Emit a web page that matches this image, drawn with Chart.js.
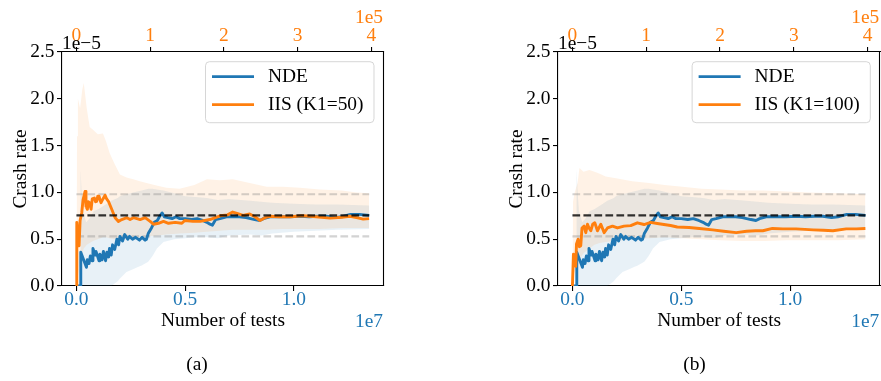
<!DOCTYPE html>
<html>
<head>
<meta charset="utf-8">
<script src="https://cdn.jsdelivr.net/npm/chart.js@4.4.1/dist/chart.umd.min.js"></script>
<style>
  html, body { margin: 0; padding: 0; background: #fff; }
  body { width: 881px; height: 381px; position: relative; overflow: hidden; }
  canvas { position: absolute; top: 0; }
  #chartA { left: 0; }
  #chartB { left: 496px; }
</style>
</head>
<body>
<canvas id="chartA" width="440" height="381"></canvas>
<canvas id="chartB" width="385" height="381"></canvas>
<script>
// ---- NDE running crash-rate estimate (x: number of tests, 1e7; y: crash rate, 1e-5)
const ndeX = [0, 0.019, 0.020, 0.030, 0.046, 0.050, 0.058, 0.064, 0.072, 0.076, 0.086, 0.090, 0.104, 0.108, 0.118, 0.124, 0.134, 0.140, 0.148, 0.152, 0.160, 0.166, 0.176, 0.186, 0.194, 0.200, 0.212, 0.222, 0.236, 0.244, 0.258, 0.272, 0.290, 0.302, 0.316, 0.322, 0.330, 0.345, 0.358, 0.372, 0.384, 0.394, 0.404, 0.420, 0.440, 0.458, 0.475, 0.500, 0.530, 0.555, 0.580, 0.600, 0.614, 0.625, 0.640, 0.660, 0.690, 0.720, 0.750, 0.780, 0.800, 0.820, 0.843, 0.860, 0.890, 0.930, 0.980, 1.030, 1.070, 1.110, 1.150, 1.190, 1.220, 1.260, 1.300, 1.346];
const ndeY = [0, 0, 0.36, 0.30, 0.20, 0.28, 0.24, 0.32, 0.27, 0.40, 0.33, 0.37, 0.27, 0.34, 0.28, 0.37, 0.27, 0.36, 0.31, 0.40, 0.33, 0.44, 0.39, 0.50, 0.44, 0.53, 0.48, 0.55, 0.50, 0.53, 0.50, 0.52, 0.49, 0.52, 0.49, 0.50, 0.56, 0.62, 0.68, 0.70, 0.75, 0.78, 0.74, 0.73, 0.72, 0.74, 0.72, 0.72, 0.71, 0.72, 0.70, 0.68, 0.66, 0.65, 0.71, 0.72, 0.74, 0.74, 0.74, 0.73, 0.72, 0.71, 0.70, 0.72, 0.74, 0.74, 0.74, 0.745, 0.74, 0.745, 0.745, 0.73, 0.74, 0.765, 0.765, 0.755];
const ndeBandX = [0, 0.018, 0.019, 0.024, 0.030, 0.045, 0.060, 0.080, 0.100, 0.120, 0.140, 0.160, 0.190, 0.200, 0.230, 0.260, 0.280, 0.300, 0.330, 0.350, 0.370, 0.400, 0.450, 0.500, 0.550, 0.600, 0.650, 0.700, 0.800, 0.850, 0.900, 1.000, 1.100, 1.200, 1.346];
const ndeHigh = [0, 0, 1.25, 1.00, 0.80, 0.68, 0.72, 0.80, 0.82, 0.85, 0.88, 0.91, 0.94, 0.96, 0.98, 1.00, 1.01, 1.02, 1.04, 1.04, 1.03, 1.02, 0.99, 0.96, 0.95, 0.94, 0.92, 0.93, 0.91, 0.90, 0.89, 0.88, 0.87, 0.87, 0.86];
const ndeLow = [0, 0, 0, 0, 0, 0, 0, 0, 0, 0, 0, 0, 0.05, 0.08, 0.15, 0.18, 0.20, 0.22, 0.26, 0.32, 0.40, 0.47, 0.50, 0.51, 0.52, 0.52, 0.51, 0.54, 0.55, 0.54, 0.56, 0.58, 0.59, 0.60, 0.61];

// ---- IIS with K1=50 (x: number of tests, 1e5)
const iisAX = [0, 0.004, 0.006, 0.020, 0.036, 0.050, 0.072, 0.090, 0.117, 0.130, 0.149, 0.160, 0.176, 0.199, 0.215, 0.244, 0.260, 0.275, 0.290, 0.307, 0.320, 0.334, 0.360, 0.389, 0.410, 0.434, 0.479, 0.525, 0.570, 0.615, 0.650, 0.683, 0.728, 0.774, 0.820, 0.864, 0.932, 1.000, 1.045, 1.113, 1.181, 1.249, 1.339, 1.430, 1.470, 1.580, 1.680, 1.810, 1.950, 2.050, 2.120, 2.200, 2.260, 2.350, 2.420, 2.490, 2.560, 2.620, 2.750, 2.900, 3.070, 3.250, 3.440, 3.600, 3.710, 3.800, 3.890, 3.970];
const iisAY = [0, 0, 0.68, 0.55, 0.43, 0.70, 0.78, 0.92, 1.01, 0.85, 0.82, 0.90, 0.89, 0.82, 0.93, 0.94, 0.90, 0.905, 0.96, 0.96, 0.92, 0.89, 0.93, 0.97, 0.93, 0.905, 0.82, 0.73, 0.69, 0.71, 0.72, 0.73, 0.71, 0.73, 0.72, 0.71, 0.73, 0.69, 0.66, 0.67, 0.69, 0.67, 0.68, 0.67, 0.70, 0.69, 0.69, 0.71, 0.75, 0.76, 0.79, 0.77, 0.755, 0.77, 0.74, 0.70, 0.73, 0.745, 0.74, 0.74, 0.75, 0.74, 0.725, 0.735, 0.745, 0.73, 0.715, 0.72];
const iisABandX = [0, 0.004, 0.008, 0.02, 0.05, 0.08, 0.10, 0.14, 0.18, 0.225, 0.29, 0.36, 0.40, 0.45, 0.52, 0.59, 0.68, 0.77, 0.86, 0.95, 1.10, 1.22, 1.40, 1.60, 1.77, 1.95, 2.12, 2.35, 2.58, 2.80, 3.03, 3.30, 3.60, 3.80, 3.97];
const iisAHigh = [0, 0, 1.60, 2.00, 1.90, 2.10, 2.17, 1.90, 1.70, 1.67, 1.62, 1.63, 1.55, 1.42, 1.30, 1.19, 1.16, 1.14, 1.12, 1.10, 1.07, 1.05, 1.04, 1.08, 1.14, 1.13, 1.14, 1.10, 1.06, 1.06, 1.05, 1.03, 1.02, 1.00, 0.99];
const iisALow = [0, 0, 0.20, 0.10, 0.25, 0.35, 0.40, 0.44, 0.46, 0.48, 0.50, 0.52, 0.52, 0.51, 0.50, 0.50, 0.50, 0.51, 0.52, 0.53, 0.54, 0.55, 0.56, 0.57, 0.58, 0.59, 0.60, 0.60, 0.60, 0.61, 0.61, 0.61, 0.62, 0.62, 0.62];

// ---- IIS with K1=100 (x: number of tests, 1e5)
const iisBX = [0, 0.005, 0.0136, 0.030, 0.045, 0.055, 0.077, 0.095, 0.113, 0.130, 0.158, 0.181, 0.204, 0.225, 0.249, 0.275, 0.303, 0.339, 0.385, 0.430, 0.475, 0.543, 0.610, 0.700, 0.790, 0.880, 0.970, 1.060, 1.150, 1.240, 1.330, 1.420, 1.580, 1.720, 1.900, 2.050, 2.220, 2.360, 2.480, 2.580, 2.710, 2.850, 3.030, 3.150, 3.260, 3.400, 3.530, 3.710, 3.850, 3.970];
const iisBY = [0, 0, 0.34, 0.28, 0.21, 0.45, 0.50, 0.42, 0.43, 0.62, 0.64, 0.57, 0.66, 0.62, 0.59, 0.66, 0.675, 0.59, 0.66, 0.57, 0.62, 0.64, 0.62, 0.64, 0.645, 0.675, 0.657, 0.68, 0.668, 0.657, 0.646, 0.63, 0.625, 0.615, 0.60, 0.585, 0.57, 0.585, 0.59, 0.59, 0.615, 0.61, 0.61, 0.605, 0.60, 0.595, 0.59, 0.61, 0.61, 0.615];
const iisBBandX = [0, 0.005, 0.008, 0.03, 0.07, 0.095, 0.15, 0.23, 0.30, 0.37, 0.45, 0.59, 0.81, 1.04, 1.25, 1.49, 1.75, 2.0, 2.3, 2.6, 2.9, 3.2, 3.6, 3.97];
const iisBHigh = [0, 0, 0.90, 1.00, 1.10, 1.26, 1.22, 1.24, 1.22, 1.20, 1.17, 1.15, 1.12, 1.10, 1.08, 1.06, 1.04, 1.03, 1.02, 1.02, 1.01, 1.00, 0.99, 0.98];
const iisBLow = [0, 0, 0.10, 0.15, 0.22, 0.28, 0.35, 0.40, 0.44, 0.46, 0.47, 0.48, 0.50, 0.51, 0.52, 0.51, 0.50, 0.49, 0.48, 0.48, 0.49, 0.49, 0.49, 0.50];

// ---- reference crash rate and its bounds, over the NDE test range
const refRate = 0.755;
const refHigh = 0.98;
const refLow = 0.53;
const refSpan = [0, 1.346];

// ---- tick labels
const yTicks = [0, 0.5, 1.0, 1.5, 2.0, 2.5];
const bottomTicks = [0, 0.5, 1.0];
const topTicks = [0, 1, 2, 3, 4];

const BLUE = '#1f77b4';
const ORANGE = '#ff7f0e';
const SERIF = '"Liberation Serif", "Times New Roman", serif';
const FS = 19.4;
const FONT_CSS = FS + 'px ' + SERIF;

const pts = (xs, ys) => xs.map((x, i) => ({ x: x, y: ys[i] }));
const flat = (v, span) => span.map(x => ({ x: x, y: v }));

// legend box, right spine, axis offset labels and panel caption
const decorPlugin = {
  id: 'decor',
  afterDatasetsDraw(chart) {
    const { ctx, chartArea: a } = chart;
    const items = [chart.data.datasets[1], chart.data.datasets[0]];
    ctx.save();
    ctx.font = FONT_CSS;
    const tw = Math.max(...items.map(d => ctx.measureText(d.label).width));
    const w = 62.5 + tw + 10.5, h = 61;
    const x0 = a.right - 10 - w, y0 = a.top + 9.7;
    ctx.beginPath();
    ctx.roundRect(x0, y0, w, h, 4);
    ctx.fillStyle = 'rgba(255,255,255,0.8)';
    ctx.fill();
    ctx.lineWidth = 1;
    ctx.strokeStyle = 'rgba(204,204,204,0.8)';
    ctx.stroke();
    items.forEach((d, i) => {
      const ly = y0 + 15 + i * 28;
      ctx.beginPath();
      ctx.moveTo(x0 + 6.5, ly);
      ctx.lineTo(x0 + 48.5, ly);
      ctx.strokeStyle = d.borderColor;
      ctx.lineWidth = 2.8;
      ctx.stroke();
      ctx.fillStyle = '#000';
      ctx.textBaseline = 'middle';
      ctx.textAlign = 'left';
      ctx.fillText(d.label, x0 + 62.5, ly);
    });
    ctx.restore();
  },
  afterDraw(chart, args, opts) {
    const { ctx, chartArea: a } = chart;
    ctx.save();
    ctx.strokeStyle = '#000';
    ctx.lineWidth = 1.1;
    ctx.beginPath();
    ctx.moveTo(Math.round(a.right) - 0.5, a.top);
    ctx.lineTo(Math.round(a.right) - 0.5, a.bottom);
    ctx.stroke();
    ctx.font = FONT_CSS;
    ctx.textBaseline = 'alphabetic';
    ctx.fillStyle = '#000';
    ctx.textAlign = 'left';
    ctx.fillText('1e\u22125', a.left, 49);
    ctx.textAlign = 'right';
    ctx.fillStyle = ORANGE;
    ctx.fillText('1e5', a.right - 1, 22.7);
    ctx.fillStyle = BLUE;
    ctx.fillText('1e7', a.right - 1, 327);
    ctx.fillStyle = '#000';
    ctx.textAlign = 'center';
    ctx.fillText(opts.caption, opts.captionX, 369.5);
    ctx.restore();
  }
};

function makePanel(id, iisX, iisY, bandX, bandLow, bandHigh, iisLabel, caption, captionX, padRight) {
  const line = (extra) => Object.assign({
    pointRadius: 0, pointHoverRadius: 0, tension: 0, fill: false,
    borderJoinStyle: 'round', borderCapStyle: 'butt'
  }, extra);
  const tickFont = { family: SERIF, size: FS, lineHeight: 0.8 };
  const axisGrid = { display: true, drawOnChartArea: false, drawTicks: true, tickLength: 5, color: '#000', lineWidth: 1.1 };
  const axisBorder = { display: true, color: '#000', width: 1.1 };

  return new Chart(document.getElementById(id), {
    type: 'line',
    data: {
      datasets: [
        line({ label: iisLabel, data: pts(iisX, iisY), xAxisID: 'x2', borderColor: ORANGE, borderWidth: 2.9, order: 1 }),
        line({ label: 'NDE', data: pts(ndeX, ndeY), xAxisID: 'x', borderColor: BLUE, borderWidth: 2.9, order: 2 }),
        line({ label: 'rate', data: flat(refRate, refSpan), xAxisID: 'x', borderColor: 'rgba(0,0,0,0.8)', borderWidth: 2.1, borderDash: [7.7, 3.3], order: 0 }),
        line({ label: 'high', data: flat(refHigh, refSpan), xAxisID: 'x', borderColor: 'rgba(128,128,128,0.35)', borderWidth: 2.1, borderDash: [7.7, 3.3], order: 3 }),
        line({ label: 'low', data: flat(refLow, refSpan), xAxisID: 'x', borderColor: 'rgba(128,128,128,0.35)', borderWidth: 2.1, borderDash: [7.7, 3.3], order: 4 }),
        line({ label: 'iisHigh', data: pts(bandX, bandHigh), xAxisID: 'x2', borderColor: 'transparent', borderWidth: 0, fill: 6, backgroundColor: 'rgba(255,127,14,0.1)', order: 5 }),
        line({ label: 'iisLow', data: pts(bandX, bandLow), xAxisID: 'x2', borderColor: 'transparent', borderWidth: 0, order: 6 }),
        line({ label: 'ndeHigh', data: pts(ndeBandX, ndeHigh), xAxisID: 'x', borderColor: 'transparent', borderWidth: 0, fill: 8, backgroundColor: 'rgba(31,119,180,0.1)', order: 7 }),
        line({ label: 'ndeLow', data: pts(ndeBandX, ndeLow), xAxisID: 'x', borderColor: 'transparent', borderWidth: 0, order: 8 })
      ]
    },
    options: {
      responsive: false,
      animation: false,
      events: [],
      devicePixelRatio: 1,
      layout: { padding: { left: 0, top: 0, right: padRight, bottom: 45 } },
      plugins: {
        legend: { display: false },
        tooltip: { enabled: false },
        decor: { caption: caption, captionX: captionX }
      },
      scales: {
        x: {
          type: 'linear', position: 'bottom', min: -0.0663, max: 1.4141,
          afterBuildTicks: s => { s.ticks = bottomTicks.map(v => ({ value: v })); },
          afterFit: s => { s.height = 50; },
          ticks: { color: BLUE, font: tickFont, padding: 1, maxRotation: 0, autoSkip: false, callback: v => v.toFixed(1) },
          grid: axisGrid, border: axisBorder,
          title: { display: true, text: 'Number of tests', color: '#000', font: { family: SERIF, size: FS, lineHeight: 1.2 }, padding: { top: 0, bottom: 3.8 } }
        },
        x2: {
          type: 'linear', position: 'top', min: -0.1955, max: 4.172,
          afterBuildTicks: s => { s.ticks = topTicks.map(v => ({ value: v })); },
          afterFit: s => { s.height = 52; },
          ticks: { color: ORANGE, font: tickFont, padding: 2.9, maxRotation: 0, autoSkip: false, callback: v => String(v) },
          grid: axisGrid, border: axisBorder
        },
        y: {
          type: 'linear', position: 'left', min: 0, max: 2.5,
          afterBuildTicks: s => { s.ticks = yTicks.map(v => ({ value: v })); },
          afterFit: s => { s.width = 62; },
          ticks: { color: '#000', font: { family: SERIF, size: FS, lineHeight: 1.2 }, padding: 2.5, autoSkip: false, callback: v => v.toFixed(1) },
          grid: axisGrid, border: axisBorder,
          title: { display: true, text: 'Crash rate', color: '#000', font: { family: SERIF, size: FS, lineHeight: 1.2 }, padding: { top: 9, bottom: 0 } }
        }
      }
    },
    plugins: [decorPlugin]
  });
}

makePanel('chartA', iisAX, iisAY, iisABandX, iisALow, iisAHigh, 'IIS (K1=50)', '(a)', 197, 56);
makePanel('chartB', iisBX, iisBY, iisBBandX, iisBLow, iisBHigh, 'IIS (K1=100)', '(b)', 198.5, 0.7);
</script>
</body>
</html>
